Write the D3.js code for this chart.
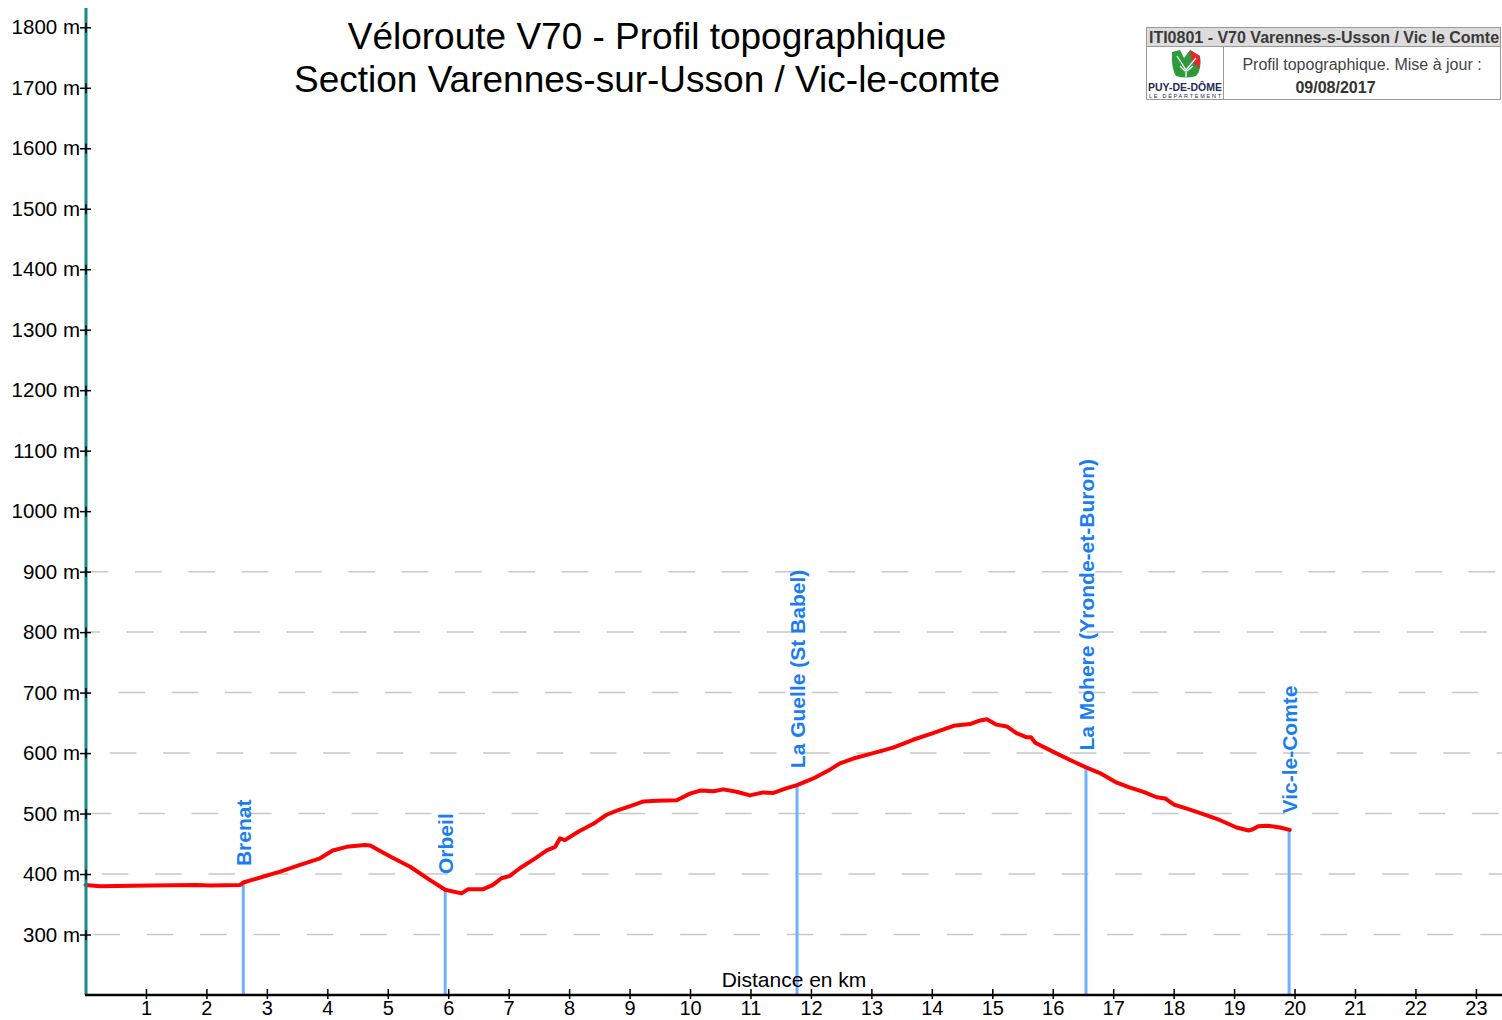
<!DOCTYPE html>
<html>
<head>
<meta charset="utf-8">
<script src="https://cdn.jsdelivr.net/npm/d3@7"></script>
<style>
  html, body { margin: 0; padding: 0; background: #fff; }
  svg { display: block; font-family: "Liberation Sans", Arial, sans-serif; }
</style>
</head>
<body>
<svg id="chart" width="1502" height="1020"></svg>
<script>
'use strict';

// Profile: distance (km) and elevation (m).
var distanceKm = [
  0.00, 0.24, 1.07, 1.84, 2.06, 2.56, 2.61, 3.22, 3.55, 3.88,
  4.09, 4.32, 4.62, 4.71, 5.04, 5.37, 5.70, 5.95, 6.22, 6.33,
  6.58, 6.74, 6.88, 7.02, 7.19, 7.44, 7.63, 7.77, 7.85, 7.93,
  8.15, 8.40, 8.62, 8.79, 9.06, 9.23, 9.45, 9.78, 10.00, 10.17,
  10.39, 10.55, 10.77, 10.99, 11.21, 11.38, 11.60, 11.77, 12.04, 12.32,
  12.48, 12.70, 13.03, 13.36, 13.69, 14.02, 14.36, 14.63, 14.80, 14.91,
  15.07, 15.24, 15.40, 15.57, 15.64, 15.71, 16.01, 16.34, 16.56, 16.78,
  17.06, 17.28, 17.50, 17.72, 17.86, 18.00, 18.22, 18.49, 18.77, 19.04,
  19.24, 19.31, 19.40, 19.54, 19.76, 19.92
];
var elevationM = [
  382, 380, 381, 382, 381, 382, 386, 404, 415, 426,
  439, 445, 448, 447, 429, 412, 390, 374, 368, 375,
  375, 382, 393, 397, 410, 426, 439, 445, 459, 456,
  470, 483, 498, 505, 514, 520, 521, 522, 533, 538,
  537, 540, 536, 530, 535, 534, 542, 547, 558, 573,
  583, 591, 600, 609, 622, 633, 645, 648, 654, 656,
  647, 644, 633, 626, 626, 617, 602, 586, 576, 567,
  551, 543, 536, 527, 525, 515, 508, 499, 489, 477,
  472, 474, 479, 480, 477, 473
];

// Places along the route.
var placeNames = ['Brenat', 'Orbeil', 'La Guelle (St Babel)',
  'La Mohere (Yronde-et-Buron)', 'Vic-le-Comte'];
var placeKm = [2.61, 5.95, 11.77, 16.55, 19.91];
var placeElevation = [385, 372, 547, 576, 472];

// Axis ticks.
var yTicks = [1800, 1700, 1600, 1500, 1400, 1300, 1200, 1100, 1000,
  900, 800, 700, 600, 500, 400, 300];
var gridTicks = [900, 800, 700, 600, 500, 400, 300];
var xTicks = [1, 2, 3, 4, 5, 6, 7, 8, 9, 10, 11, 12, 13, 14, 15, 16,
  17, 18, 19, 20, 21, 22, 23];

var titleLines = ['Véloroute V70 - Profil topographique',
  'Section Varennes-sur-Usson / Vic-le-comte'];

var svg = d3.select('#chart'),
    width = 1502,
    axisX = 86,
    axisY = 995;

var x = d3.scaleLinear().domain([0, 23]).range([85.5, 1475.9]);
var y = d3.scaleLinear().domain([200, 1800]).range([axisY, 27.3]);

// Dashed grid lines (only the lower ones are drawn on the original).
// Each line has its own dash phase, like the source picture.
var phases = {900: 49, 800: 40.7, 700: 32.3, 600: 23.7,
  500: 52.3, 400: 15.7, 300: 7.4};
svg.append('g')
  .attr('class', 'grid')
  .selectAll('line')
  .data(gridTicks)
  .enter().append('line')
  .attr('x1', axisX)
  .attr('x2', width)
  .attr('y1', function(d) { return y(d); })
  .attr('y2', function(d) { return y(d); })
  .attr('stroke', '#c8c8c8')
  .attr('stroke-width', 1.5)
  .attr('stroke-dasharray', '26.67,26.67')
  .attr('stroke-dashoffset', function(d) {
    return (53.33 - phases[d]) % 53.33;
  });

// Vertical markers for the places.
var places = placeNames.map(function(name, i) {
  return {name: name, km: placeKm[i], elev: placeElevation[i]};
});

var marker = svg.append('g')
  .attr('class', 'places')
  .selectAll('g')
  .data(places)
  .enter().append('g');

marker.append('line')
  .attr('x1', function(d) { return x(d.km); })
  .attr('x2', function(d) { return x(d.km); })
  .attr('y1', axisY)
  .attr('y2', function(d) { return y(d.elev); })
  .attr('stroke', '#6fb1ff')
  .attr('stroke-width', 3);

marker.append('text')
  .attr('transform', function(d) {
    return 'translate(' + [x(d.km), y(d.elev) - 17] + ') rotate(-90)';
  })
  .attr('dy', '0.36em')
  .attr('fill', '#1a7ef2')
  .attr('font-weight', 'bold')
  .attr('font-size', 21)
  .text(function(d) { return d.name; });

// Elevation profile.
var profile = distanceKm.map(function(km, i) {
  return [km, elevationM[i]];
});

svg.append('path')
  .datum(profile)
  .attr('fill', 'none')
  .attr('stroke', '#ff0000')
  .attr('stroke-width', 4)
  .attr('stroke-linejoin', 'round')
  .attr('stroke-linecap', 'round')
  .attr('d', d3.line()
    .x(function(d) { return x(d[0]); })
    .y(function(d) { return y(d[1]); }));

// Y axis: teal line, "+" ticks and labels in metres.
svg.append('line')
  .attr('x1', axisX).attr('x2', axisX)
  .attr('y1', 8).attr('y2', axisY)
  .attr('stroke', '#168a8c')
  .attr('stroke-width', 3);

var yAxis = svg.append('g')
  .attr('transform', 'translate(' + axisX + ',0)')
  .call(d3.axisLeft(y)
    .tickValues(yTicks)
    .tickSize(0)
    .tickPadding(6)
    .tickFormat(function(d) { return d + ' m'; }));
yAxis.select('.domain').remove();
yAxis.selectAll('text')
  .attr('font-size', 20.5)
  .attr('font-family', '"Liberation Sans", Arial, sans-serif')
  .attr('fill', '#000');
yAxis.selectAll('.tick').each(function() {
  var t = d3.select(this);
  t.append('line').attr('x1', -6).attr('x2', 5)
    .attr('stroke', '#000').attr('stroke-width', 1.5);
  t.append('line').attr('y1', -5).attr('y2', 5)
    .attr('stroke', '#000').attr('stroke-width', 1.5);
});

// X axis: distance in km.
svg.append('line')
  .attr('x1', axisX - 1).attr('x2', width)
  .attr('y1', axisY).attr('y2', axisY)
  .attr('stroke', '#000')
  .attr('stroke-width', 2.5);

var xAxis = svg.append('g')
  .attr('transform', 'translate(0,' + axisY + ')')
  .call(d3.axisBottom(x)
    .tickValues(xTicks)
    .tickSize(0)
    .tickPadding(6)
    .tickFormat(d3.format('d')));
xAxis.select('.domain').remove();
xAxis.selectAll('text')
  .attr('font-size', 20)
  .attr('font-family', '"Liberation Sans", Arial, sans-serif')
  .attr('fill', '#000');
xAxis.selectAll('.tick').append('line')
  .attr('y1', -6).attr('y2', 4)
  .attr('stroke', '#000').attr('stroke-width', 1.5);

svg.append('text')
  .attr('x', 794)
  .attr('y', 987)
  .attr('text-anchor', 'middle')
  .attr('font-size', 21)
  .text('Distance en km');

// Title.
svg.append('g')
  .selectAll('text')
  .data(titleLines)
  .enter().append('text')
  .attr('x', 647)
  .attr('y', function(d, i) { return 49 + i * 43; })
  .attr('text-anchor', 'middle')
  .attr('font-size', 37)
  .text(function(d) { return d; });

// Cartouche in the top right corner.
var box = svg.append('g').attr('class', 'cartouche');
box.append('rect')
  .attr('x', 1146.5).attr('y', 27.5)
  .attr('width', 354).attr('height', 19)
  .attr('fill', '#dcdcdc');
box.append('rect')
  .attr('x', 1146.5).attr('y', 27.5)
  .attr('width', 354).attr('height', 72)
  .attr('fill', 'none')
  .attr('stroke', '#9a9a9a');
box.append('line')
  .attr('x1', 1146.5).attr('x2', 1500.5)
  .attr('y1', 46.5).attr('y2', 46.5)
  .attr('stroke', '#9a9a9a');
box.append('line')
  .attr('x1', 1223.5).attr('x2', 1223.5)
  .attr('y1', 46.5).attr('y2', 99.5)
  .attr('stroke', '#9a9a9a');
box.append('text')
  .attr('x', 1324).attr('y', 42.5)
  .attr('text-anchor', 'middle')
  .attr('font-size', 16).attr('font-weight', 'bold')
  .attr('fill', '#3a3a3a')
  .text('ITI0801 - V70 Varennes-s-Usson / Vic le Comte');
box.append('text')
  .attr('x', 1362).attr('y', 70)
  .attr('text-anchor', 'middle')
  .attr('font-size', 16)
  .attr('fill', '#444')
  .text('Profil topographique. Mise à jour :');
box.append('text')
  .attr('x', 1335.5).attr('y', 93)
  .attr('text-anchor', 'middle')
  .attr('font-size', 16).attr('font-weight', 'bold')
  .attr('fill', '#333')
  .text('09/08/2017');

// Simplified Puy-de-Dôme logo.
var logo = box.append('g');
logo.append('path')
  .attr('d', 'M1172,52 L1180,50 L1184,58 L1190,50 L1200,56 ' +
    'Q1202,70 1196,76 Q1186,79 1176,76 Q1171,68 1172,52 Z')
  .attr('fill', '#2f9a3c');
logo.append('path')
  .attr('d', 'M1190,50 L1200,56 Q1201,62 1199,68 L1192,62 Z')
  .attr('fill', '#e2282c');
logo.append('path')
  .attr('d', 'M1177,56 L1186,70 L1196,58 M1186,70 L1186,77 ' +
    'M1180,66 L1185,71 M1193,66 L1187,71')
  .attr('fill', 'none')
  .attr('stroke', '#fff')
  .attr('stroke-width', 1.3);
logo.append('text')
  .attr('x', 1185).attr('y', 91)
  .attr('text-anchor', 'middle')
  .attr('font-size', 10).attr('font-weight', 'bold')
  .attr('fill', '#1c2b55')
  .attr('textLength', 74)
  .attr('lengthAdjust', 'spacingAndGlyphs')
  .text('PUY-DE-DÔME');
logo.append('text')
  .attr('x', 1185).attr('y', 97.5)
  .attr('text-anchor', 'middle')
  .attr('font-size', 5.5)
  .attr('fill', '#1c2b55')
  .attr('textLength', 72)
  .attr('lengthAdjust', 'spacing')
  .text('LE DÉPARTEMENT');
</script>
</body>
</html>
